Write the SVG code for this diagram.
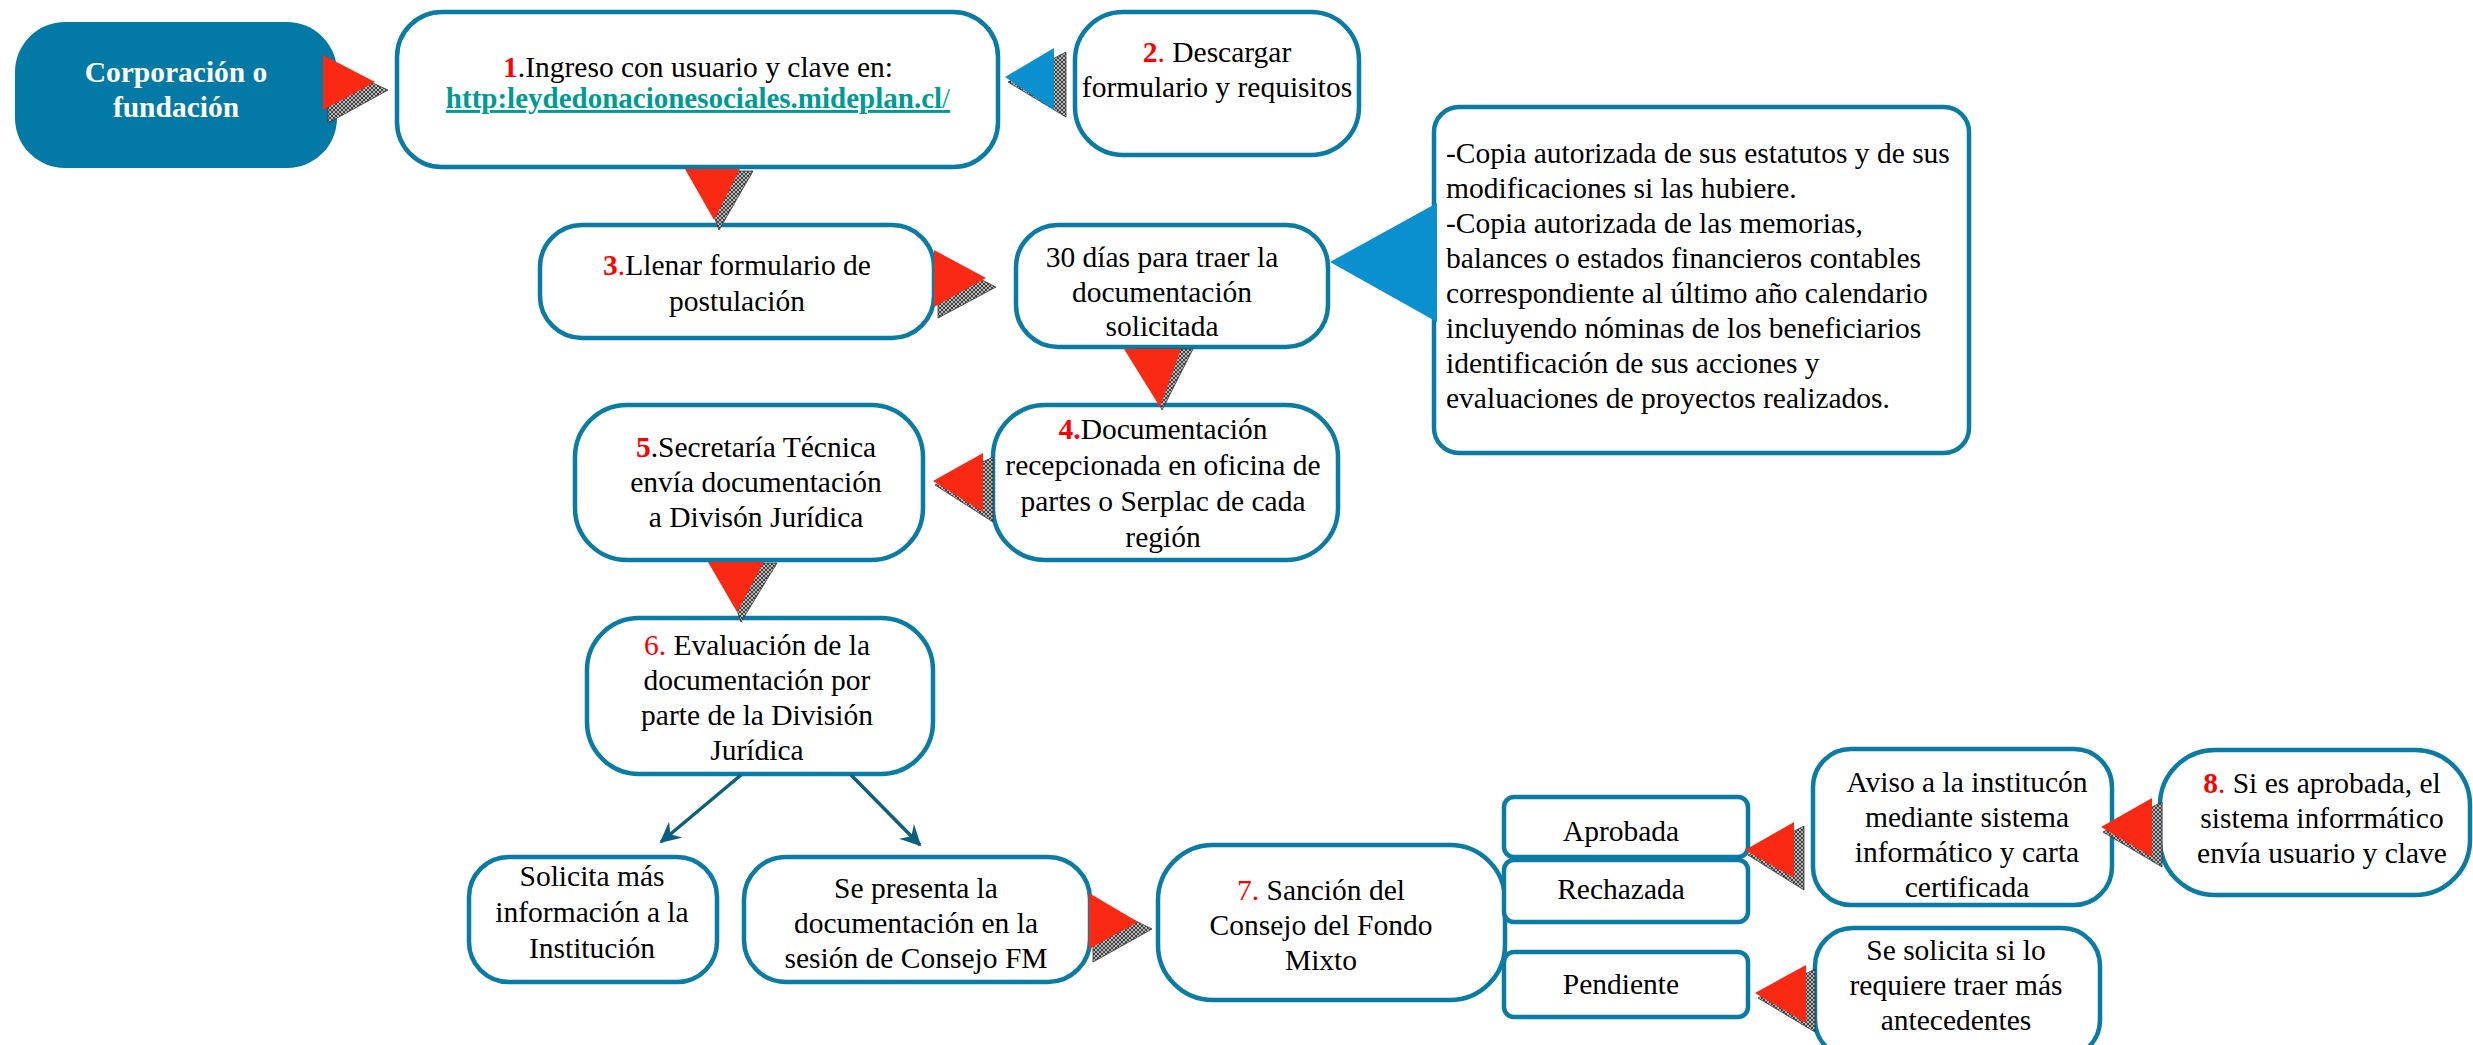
<svg xmlns="http://www.w3.org/2000/svg" width="2473" height="1045" viewBox="0 0 2473 1045">
<defs>
<style>
.box{fill:#fff;stroke:#0A7BA4;stroke-width:4.5}
.t{font-family:"Liberation Serif","Times New Roman",serif;font-size:29.5px;fill:#000;text-anchor:middle}
.l{text-anchor:start}
.n{fill:#FF0000;font-weight:bold}
.nr{fill:#FF0000}
.red{fill:#FA2914}
.blue{fill:#0A90CF}
.sh{fill:url(#hatch);stroke:#333;stroke-width:0.8}
.conn{stroke:#0E5F7E;stroke-width:3.5;fill:none}
</style>
<pattern id="hatch" width="4" height="4" patternUnits="userSpaceOnUse">
<rect width="4" height="4" fill="#b8b8b8"/>
<path d="M0,0 L4,4 M4,0 L0,4" stroke="#222" stroke-width="0.8"/>
</pattern>
<marker id="arr" viewBox="0 0 12 12" refX="11" refY="6" markerWidth="6" markerHeight="6" orient="auto" markerUnits="strokeWidth">
<path d="M0,0 L12,6 L0,12 L4,6 z" fill="#0E5F7E"/>
</marker>
</defs>
<rect width="2473" height="1045" fill="#fff"/>

<g id="nodes">
<g id="corp">
<rect x="15" y="22" width="322" height="146" rx="50" fill="#0379A5"/>
<text class="t" x="176" y="82" style="fill:#fff;font-weight:bold">Corporación o</text>
<text class="t" x="176" y="117" style="fill:#fff;font-weight:bold">fundación</text>
</g>
<g id="step1">
<rect class="box" x="397" y="12" width="601" height="155" rx="45"/>
<text class="t" x="698" y="77"><tspan class="n">1</tspan>.Ingreso con usuario y clave en:</text>
<text class="t" x="698" y="108" style="fill:#009A94;text-decoration:underline;font-size:29px"><tspan font-weight="bold">http:leydedonacionesociales.mideplan.cl</tspan>/</text>
</g>
<g id="step2">
<rect class="box" x="1075" y="12" width="284" height="143" rx="48"/>
<text class="t" x="1217" y="62"><tspan class="n">2</tspan><tspan class="nr">.</tspan> Descargar</text>
<text class="t" x="1217" y="97">formulario y requisitos</text>
</g>
<g id="requisitos">
<rect class="box" x="1434" y="107" width="535" height="346" rx="25"/>
<text class="t l" x="1446" y="163">-Copia autorizada de sus estatutos y de sus</text>
<text class="t l" x="1446" y="198">modificaciones si las hubiere.</text>
<text class="t l" x="1446" y="233">-Copia autorizada de las memorias,</text>
<text class="t l" x="1446" y="268">balances o estados financieros contables</text>
<text class="t l" x="1446" y="303">correspondiente al último año calendario</text>
<text class="t l" x="1446" y="338">incluyendo nóminas de los beneficiarios</text>
<text class="t l" x="1446" y="373">identificación de sus acciones y</text>
<text class="t l" x="1446" y="408">evaluaciones de proyectos realizados.</text>
</g>
<g id="step3">
<rect class="box" x="540" y="225" width="394" height="113" rx="42"/>
<text class="t" x="737" y="275"><tspan class="n">3</tspan><tspan class="nr">.</tspan>Llenar formulario de</text>
<text class="t" x="737" y="311">postulación</text>
</g>
<g id="dias30">
<rect class="box" x="1016" y="225" width="312" height="122" rx="42"/>
<text class="t" x="1162" y="267">30 días para traer la</text>
<text class="t" x="1162" y="302">documentación</text>
<text class="t" x="1162" y="336">solicitada</text>
</g>
<g id="step4">
<rect class="box" x="993" y="405" width="345" height="155" rx="52"/>
<text class="t" x="1163" y="439"><tspan class="n">4.</tspan>Documentación</text>
<text class="t" x="1163" y="475">recepcionada en oficina de</text>
<text class="t" x="1163" y="511">partes o Serplac de cada</text>
<text class="t" x="1163" y="547">región</text>
</g>
<g id="step5">
<rect class="box" x="575" y="405" width="348" height="155" rx="52"/>
<text class="t" x="756" y="457"><tspan class="n">5</tspan>.Secretaría Técnica</text>
<text class="t" x="756" y="492">envía documentación</text>
<text class="t" x="756" y="527">a Divisón Jurídica</text>
</g>
<g id="step6">
<rect class="box" x="587" y="618" width="346" height="156" rx="52"/>
<text class="t" x="757" y="655"><tspan class="nr">6.</tspan> Evaluación de la</text>
<text class="t" x="757" y="690">documentación por</text>
<text class="t" x="757" y="725">parte de la División</text>
<text class="t" x="757" y="760">Jurídica</text>
</g>
<g id="solicita">
<rect class="box" x="469" y="857" width="248" height="125" rx="40"/>
<text class="t" x="592" y="886">Solicita más</text>
<text class="t" x="592" y="922">información a la</text>
<text class="t" x="592" y="958">Institución</text>
</g>
<g id="presenta">
<rect class="box" x="744" y="857" width="346" height="125" rx="42"/>
<text class="t" x="916" y="898">Se presenta la</text>
<text class="t" x="916" y="933">documentación en la</text>
<text class="t" x="916" y="968">sesión de Consejo FM</text>
</g>
<g id="step7">
<rect class="box" x="1158" y="845" width="347" height="155" rx="55"/>
<text class="t" x="1321" y="900"><tspan class="nr">7.</tspan> Sanción del</text>
<text class="t" x="1321" y="935">Consejo del Fondo</text>
<text class="t" x="1321" y="970">Mixto</text>
</g>
<g id="aprobada">
<rect class="box" x="1504" y="797" width="244" height="60" rx="10"/>
<text class="t" x="1621" y="841">Aprobada</text>
</g>
<g id="rechazada">
<rect class="box" x="1504" y="860" width="244" height="62" rx="10"/>
<text class="t" x="1621" y="899">Rechazada</text>
</g>
<g id="pendiente">
<rect class="box" x="1504" y="952" width="244" height="65" rx="10"/>
<text class="t" x="1621" y="994">Pendiente</text>
</g>
<g id="aviso">
<rect class="box" x="1813" y="749" width="299" height="156" rx="38"/>
<text class="t" x="1967" y="792">Aviso a la institucón</text>
<text class="t" x="1967" y="827">mediante sistema</text>
<text class="t" x="1967" y="862">informático y carta</text>
<text class="t" x="1967" y="897">certificada</text>
</g>
<g id="step8">
<rect class="box" x="2160" y="750" width="310" height="145" rx="55"/>
<text class="t" x="2322" y="793"><tspan class="n">8</tspan><tspan class="nr">.</tspan> Si es aprobada, el</text>
<text class="t" x="2322" y="828">sistema inforrmático</text>
<text class="t" x="2322" y="863">envía usuario y clave</text>
</g>
<g id="sesolicita">
<rect class="box" x="1815" y="928" width="285" height="130" rx="38"/>
<text class="t" x="1956" y="960">Se solicita si lo</text>
<text class="t" x="1956" y="995">requiere traer más</text>
<text class="t" x="1956" y="1030">antecedentes</text>
</g>
</g>

<g id="connectors">
<polygon class="sh" points="327,62 388,90 328,123"/>
<polygon class="red" points="323,55 375,82 323,110"/>
<polygon class="sh" points="698,171 753,171 719,230"/>
<polygon class="red" points="685,169 740,169 714,220"/>
<polygon class="sh" points="1008,82 1066,52 1066,117"/>
<polygon class="blue" points="1005,77 1054,48 1054,110"/>
<polygon class="sh" points="938,258 996,287 938,318"/>
<polygon class="red" points="934,250 986,278 934,307"/>
<polygon class="blue" points="1330,262 1437,203 1437,322"/>
<polygon class="sh" points="1136,349 1193,349 1162,410"/>
<polygon class="red" points="1124,349 1181,349 1160,407"/>
<polygon class="sh" points="935,485 993,457 993,522"/>
<polygon class="red" points="933,481 983,453 983,512"/>
<polygon class="sh" points="721,563 777,563 741,622"/>
<polygon class="red" points="708,562 764,562 737,612"/>
<line class="conn" x1="741" y1="775" x2="661" y2="842" marker-end="url(#arr)"/>
<line class="conn" x1="851" y1="775" x2="920" y2="845" marker-end="url(#arr)"/>
<polygon class="sh" points="1093,900 1152,929 1093,962"/>
<polygon class="red" points="1089,893 1138,922 1089,949"/>
<polygon class="sh" points="1748,855 1804,826 1804,890"/>
<polygon class="red" points="1745,850 1794,822 1794,878"/>
<polygon class="sh" points="2103,832 2162,802 2162,867"/>
<polygon class="red" points="2101,827 2152,798 2152,857"/>
<polygon class="sh" points="1758,998 1815,969 1815,1032"/>
<polygon class="red" points="1755,993 1806,965 1806,1023"/>
</g>
</svg>
